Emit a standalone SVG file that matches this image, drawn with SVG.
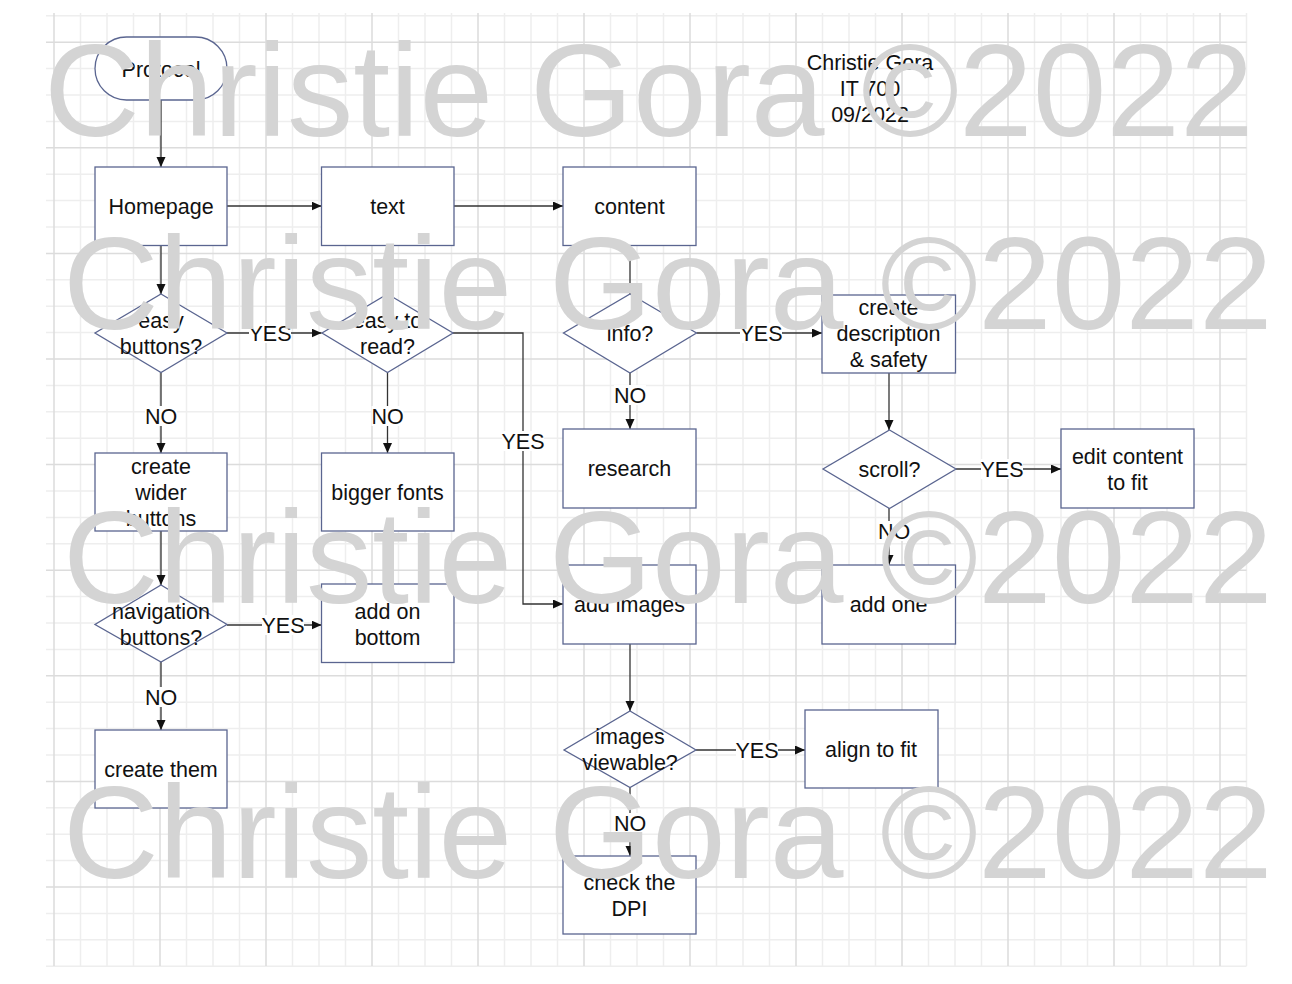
<svg xmlns="http://www.w3.org/2000/svg" width="1292" height="984" viewBox="0 0 1292 984">
<style>
.gmin{stroke:#eeeeee;stroke-width:1.5;fill:none}
.gmaj{stroke:#dcdcdc;stroke-width:1.5;fill:none}
.n{fill:#ffffff;stroke:#5a6590;stroke-width:1.3}
.t{font-family:"Liberation Sans",Arial,Helvetica,sans-serif;font-size:21.5px;fill:#111111;text-anchor:middle}
.c{fill:none;stroke:#333333;stroke-width:1.3}
.lb{fill:#ffffff}
.wm{font-family:"Liberation Sans",Arial,Helvetica,sans-serif;font-size:132.5px;fill:#d4d4d4}
</style>
<defs>
<marker id="ah" markerUnits="userSpaceOnUse" markerWidth="12" markerHeight="10" refX="10" refY="4.5" orient="auto">
<path d="M0,0 L10,4.5 L0,9 z" fill="#111111"/>
</marker>
</defs>
<rect x="0" y="0" width="1292" height="984" fill="#ffffff"/>
<g id="grid">
<path class="gmin" d="M80.5 13V966M107 13V966M133.5 13V966M186.5 13V966M213 13V966M239.5 13V966M292.5 13V966M319 13V966M345.5 13V966M398.5 13V966M425 13V966M451.5 13V966M504.5 13V966M531 13V966M557.5 13V966M610.5 13V966M637 13V966M663.5 13V966M716.5 13V966M743 13V966M769.5 13V966M822.5 13V966M849 13V966M875.5 13V966M928.5 13V966M955 13V966M981.5 13V966M1034.5 13V966M1061 13V966M1087.5 13V966M1140.5 13V966M1167 13V966M1193.5 13V966M1246.5 13V966"/>
<path class="gmin" d="M46 15.8H1246.5M46 68.6H1246.5M46 95H1246.5M46 121.4H1246.5M46 174.2H1246.5M46 200.6H1246.5M46 227H1246.5M46 279.8H1246.5M46 306.2H1246.5M46 332.6H1246.5M46 385.4H1246.5M46 411.8H1246.5M46 438.2H1246.5M46 491H1246.5M46 517.4H1246.5M46 543.8H1246.5M46 596.6H1246.5M46 623H1246.5M46 649.4H1246.5M46 702.2H1246.5M46 728.6H1246.5M46 755H1246.5M46 807.8H1246.5M46 834.2H1246.5M46 860.6H1246.5M46 913.4H1246.5M46 939.8H1246.5M46 966.2H1246.5"/>
<path class="gmaj" d="M54 13V966M160 13V966M266 13V966M372 13V966M478 13V966M584 13V966M690 13V966M796 13V966M902 13V966M1008 13V966M1114 13V966M1220 13V966"/>
<path class="gmaj" d="M46 42.2H1246.5M46 147.8H1246.5M46 253.4H1246.5M46 359H1246.5M46 464.6H1246.5M46 570.2H1246.5M46 675.8H1246.5M46 781.4H1246.5M46 887H1246.5"/>
</g>
<g id="connectors">
<path class="c" d="M161 100V167" marker-end="url(#ah)"/>
<path class="c" d="M227 206H321.5" marker-end="url(#ah)"/>
<path class="c" d="M454 206H563" marker-end="url(#ah)"/>
<path class="c" d="M161 245.5V294" marker-end="url(#ah)"/>
<path class="c" d="M630 245.5V294" marker-end="url(#ah)"/>
<path class="c" d="M227 333H321.5" marker-end="url(#ah)"/>
<path class="c" d="M161 372.5V453" marker-end="url(#ah)"/>
<path class="c" d="M387.5 372.5V453" marker-end="url(#ah)"/>
<path class="c" d="M453 333H523V604H563" marker-end="url(#ah)"/>
<path class="c" d="M696.5 333H822" marker-end="url(#ah)"/>
<path class="c" d="M630 373V429" marker-end="url(#ah)"/>
<path class="c" d="M889 373V430" marker-end="url(#ah)"/>
<path class="c" d="M956 469H1061" marker-end="url(#ah)"/>
<path class="c" d="M889 508V565" marker-end="url(#ah)"/>
<path class="c" d="M161 531V585" marker-end="url(#ah)"/>
<path class="c" d="M227 625H321.5" marker-end="url(#ah)"/>
<path class="c" d="M161 662V730" marker-end="url(#ah)"/>
<path class="c" d="M630 644V711" marker-end="url(#ah)"/>
<path class="c" d="M696 750H805" marker-end="url(#ah)"/>
<path class="c" d="M630 787V856" marker-end="url(#ah)"/>
</g>
<g id="labels">
<rect class="lb" x="249" y="323" width="42" height="20"/><text class="t" x="270" y="340.5">YES</text>
<rect class="lb" x="145" y="406" width="32" height="20"/><text class="t" x="161" y="423.5">NO</text>
<rect class="lb" x="371.5" y="406" width="32" height="20"/><text class="t" x="387.5" y="423.5">NO</text>
<rect class="lb" x="502" y="431" width="42" height="20"/><text class="t" x="523" y="448.5">YES</text>
<rect class="lb" x="740" y="323" width="42" height="20"/><text class="t" x="761" y="340.5">YES</text>
<rect class="lb" x="614" y="385" width="32" height="20"/><text class="t" x="630" y="402.5">NO</text>
<rect class="lb" x="981" y="459" width="42" height="20"/><text class="t" x="1002" y="476.5">YES</text>
<rect class="lb" x="878" y="521" width="32" height="20"/><text class="t" x="894" y="538.5">NO</text>
<rect class="lb" x="262" y="615" width="42" height="20"/><text class="t" x="283" y="632.5">YES</text>
<rect class="lb" x="145" y="687" width="32" height="20"/><text class="t" x="161" y="704.5">NO</text>
<rect class="lb" x="736" y="740" width="42" height="20"/><text class="t" x="757" y="757.5">YES</text>
<rect class="lb" x="614" y="813" width="32" height="20"/><text class="t" x="630" y="830.5">NO</text>
</g>
<g id="protocol"><rect class="n" x="95" y="37" width="132" height="63" rx="31.5"/><text class="t" x="161" y="76.5">Protocol</text></g>
<g id="homepage"><rect class="n" x="95" y="167" width="132" height="78.5"/><text class="t" x="161" y="213.5">Homepage</text></g>
<g id="text"><rect class="n" x="321.5" y="167" width="132.5" height="78.5"/><text class="t" x="387.5" y="213.5">text</text></g>
<g id="content"><rect class="n" x="563" y="167" width="133" height="78.5"/><text class="t" x="629.5" y="213.5">content</text></g>
<g id="easy-buttons"><path class="n" d="M161 294L227 333L161 372.5L95 333Z"/><text class="t" x="161" y="327.5">easy</text><text class="t" x="161" y="353.5">buttons?</text></g>
<g id="easy-read"><path class="n" d="M387.5 294L453 333L387.5 372.5L322 333Z"/><text class="t" x="387.5" y="327.5">easy to</text><text class="t" x="387.5" y="353.5">read?</text></g>
<g id="info"><path class="n" d="M630 294L696.5 333L630 373L563.5 333Z"/><text class="t" x="630" y="340.5">info?</text></g>
<g id="create-desc"><rect class="n" x="822" y="295" width="133.5" height="78"/><text class="t" x="888.5" y="314.5">create</text><text class="t" x="888.5" y="340.5">description</text><text class="t" x="888.5" y="366.5">&amp; safety</text></g>
<g id="create-wider"><rect class="n" x="95" y="453" width="132" height="78"/><text class="t" x="161" y="473.5">create</text><text class="t" x="161" y="499.5">wider</text><text class="t" x="161" y="525.5">buttons</text></g>
<g id="bigger-fonts"><rect class="n" x="321.5" y="453" width="132.5" height="78"/><text class="t" x="387.5" y="499.5">bigger fonts</text></g>
<g id="research"><rect class="n" x="563" y="429" width="133" height="79"/><text class="t" x="629.5" y="475.5">research</text></g>
<g id="scroll"><path class="n" d="M889.5 430L956 469L889.5 508.5L823 469Z"/><text class="t" x="889.5" y="476.5">scroll?</text></g>
<g id="edit-content"><rect class="n" x="1061" y="429" width="133" height="79"/><text class="t" x="1127.5" y="463.5">edit content</text><text class="t" x="1127.5" y="489.5">to fit</text></g>
<g id="navigation"><path class="n" d="M161 585L227 624.5L161 662L95 624.5Z"/><text class="t" x="161" y="618.5">navigation</text><text class="t" x="161" y="644.5">buttons?</text></g>
<g id="add-bottom"><rect class="n" x="321.5" y="584" width="132.5" height="78.5"/><text class="t" x="387.5" y="618.5">add on</text><text class="t" x="387.5" y="644.5">bottom</text></g>
<g id="add-images"><rect class="n" x="563" y="565" width="133" height="79"/><text class="t" x="629.5" y="611.5">add images</text></g>
<g id="add-one"><rect class="n" x="822" y="565" width="133.5" height="79"/><text class="t" x="888.5" y="611.5">add one</text></g>
<g id="images-viewable"><path class="n" d="M630 711L696 750L630 787.5L564 750Z"/><text class="t" x="630" y="743.5">images</text><text class="t" x="630" y="769.5">viewable?</text></g>
<g id="align-fit"><rect class="n" x="805" y="710" width="133" height="78"/><text class="t" x="871" y="756.5">align to fit</text></g>
<g id="create-them"><rect class="n" x="95" y="730" width="132" height="78"/><text class="t" x="161" y="776.5">create them</text></g>
<g id="check-dpi"><rect class="n" x="563" y="856" width="133" height="78"/><text class="t" x="629.5" y="889.5">check the</text><text class="t" x="629.5" y="915.5">DPI</text></g>
<g id="header"><text class="t" x="870" y="70">Christie Gora</text><text class="t" x="870" y="96">IT 700</text><text class="t" x="870" y="122">09/2022</text></g>
<g id="watermark">
<text class="wm" x="44" y="136">Christie Gora ©2022</text>
<text class="wm" x="63" y="329">Christie Gora ©2022</text>
<text class="wm" x="63" y="603">Christie Gora ©2022</text>
<text class="wm" x="63" y="878">Christie Gora ©2022</text>
</g>
</svg>
